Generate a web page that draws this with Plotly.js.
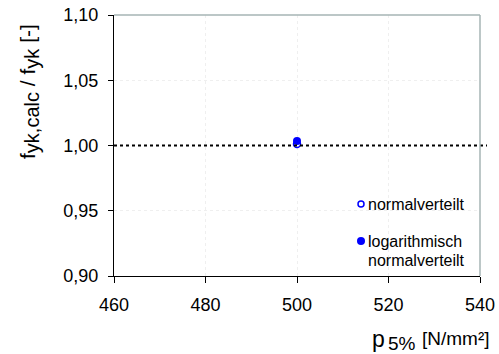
<!DOCTYPE html>
<html><head><meta charset="utf-8">
<script src="https://cdn.plot.ly/plotly-3.0.1.min.js"></script>
<style>body{margin:0;padding:0;background:#fff}#chart{width:499px;height:354px}</style>
</head><body><div id="chart"></div>
<script>
const seriesNames = ["normalverteilt", "logarithmisch", "normalverteilt"];
const xNormal = [500];
const yNormal = [1.0012];
const xLog = [500];
const yLog = [1.0035];
const refLineY = 1.00;
const xTicks = [460, 480, 500, 520, 540];
const yTicks = [0.90, 0.95, 1.00, 1.05, 1.10];
const yTickText = ["0,90", "0,95", "1,00", "1,05", "1,10"];

const FAM = "Liberation Sans, Arial, sans-serif";
const f = (s) => ({family: FAM, size: s, color: "#000"});
const L = 114, T = 15, W = 366, H = 261;
const px = (x) => (x - L) / W;
const py = (y) => (T + H - y) / H;

const traces = [
  {x: xNormal, y: yNormal, name: seriesNames[0], mode: "markers", type: "scatter", showlegend: false,
   marker: {symbol: "circle-open", size: 7, color: "#0000ff", line: {width: 1.5, color: "#0000ff"}}},
  {x: xLog, y: yLog, name: seriesNames[1], mode: "markers", type: "scatter", showlegend: false,
   marker: {symbol: "circle", size: 8, color: "#0000ff"}}
];

const ann = (x, y, text, size, opts) => Object.assign({xref: "paper", yref: "paper", x: px(x), y: py(y),
  text: text, showarrow: false, font: f(size), xanchor: "left", yanchor: "middle", borderpad: 0}, opts || {});

const layout = {
  width: 499, height: 354,
  margin: {l: L, r: 499 - L - W, t: T, b: 354 - T - H},
  paper_bgcolor: "#fff", plot_bgcolor: "#fff",
  font: f(18),
  showlegend: false,
  xaxis: {range: [460, 540], tickvals: xTicks, ticks: "outside", ticklen: 6, tickcolor: "#000",
    showline: true, linecolor: "#000", linewidth: 1, zeroline: false,
    showgrid: true, gridcolor: "#efefef", griddash: "dot", gridwidth: 1,
    tickfont: f(18), ticklabelstandoff: 6},
  yaxis: {range: [0.90, 1.10], tickvals: yTicks, ticktext: yTickText, ticks: "outside", ticklen: 5, tickcolor: "#000",
    showline: true, linecolor: "#000", linewidth: 1, zeroline: false,
    showgrid: true, gridcolor: "#efefef", griddash: "dot", gridwidth: 1,
    tickfont: f(18), ticklabelstandoff: 6},
  annotations: [
    // y-axis title
    {xref: "paper", yref: "paper", x: px(29), y: py(92), xanchor: "center", yanchor: "middle",
     textangle: -90, showarrow: false, font: f(21),
     text: "f<sub><span style=\"font-size:20px\">yk,calc</span></sub>\u00a0/\u00a0f<sub><span style=\"font-size:20px\">yk</span></sub>\u00a0[-]"},
    // x-axis title
    ann(371, 339, "p", 23),
    ann(387, 343, "5%", 19),
    ann(421, 338, "[N/mm²]", 19),
    // legend texts
    ann(367, 204, seriesNames[0], 16),
    ann(367, 241, seriesNames[1], 16),
    ann(367, 260, seriesNames[2], 16)
  ],
  shapes: [
    {type: "line", xref: "paper", yref: "y", x0: 0, x1: px(487), y0: refLineY, y1: refLineY,
     line: {color: "#000", width: 2, dash: "dot"}},
    {type: "line", xref: "paper", yref: "paper", x0: 0, x1: 1, y0: 1, y1: 1, line: {color: "#a6b4b4", width: 1.5}},
    {type: "line", xref: "paper", yref: "paper", x0: 1, x1: 1, y0: 0, y1: 1, line: {color: "#a6b4b4", width: 1.5}},
    // legend symbols
    {type: "circle", xref: "paper", yref: "paper", xsizemode: "pixel", ysizemode: "pixel",
     xanchor: px(361), yanchor: py(204), x0: -3, x1: 3, y0: -3, y1: 3,
     line: {color: "#0000ff", width: 1.5}, fillcolor: "#fff"},
    {type: "circle", xref: "paper", yref: "paper", xsizemode: "pixel", ysizemode: "pixel",
     xanchor: px(361), yanchor: py(241), x0: -4, x1: 4, y0: -4, y1: 4,
     line: {color: "#0000ff", width: 0}, fillcolor: "#0000ff"}
  ]
};
Plotly.newPlot("chart", traces, layout, {displayModeBar: false, staticPlot: true});
</script></body></html>
